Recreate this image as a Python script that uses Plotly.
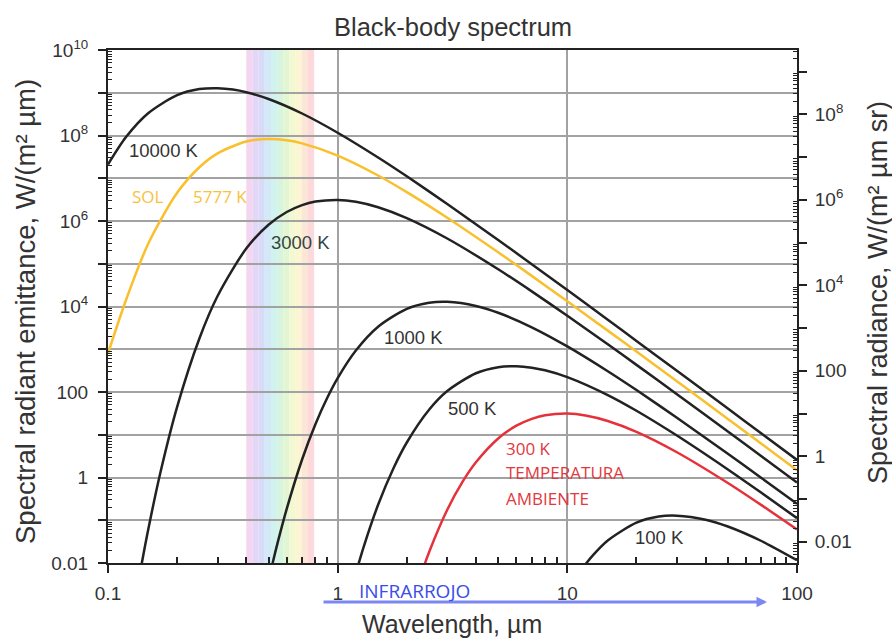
import numpy as np
import plotly.graph_objects as go

# ---------------- data ----------------
# wavelength (µm) and spectral radiant emittance W/(m² µm)
wl_10000 = [0.1, 0.12, 0.15, 0.2, 0.25, 0.3, 0.35, 0.4, 0.5, 0.7, 1, 1.5, 2, 3, 5, 7, 10, 15, 20, 30, 50, 70, 100]
em_10000 = [2.1e7, 9.3e7, 3.36e8, 8.78e8, 1.22e9, 1.28e9, 1.19e9, 1.03e9, 7.14e8, 3.27e8, 1.16e8, 3.06e7,
            1.11e7, 2.50e6, 3.59e5, 9.75e4, 2.42e4, 4895, 1567, 314, 41.0, 10.7, 2.58]

wl_5777 = [0.1, 0.12, 0.15, 0.2, 0.25, 0.3, 0.4, 0.5, 0.6, 0.7, 1, 1.5, 2, 3, 5, 7, 10, 15, 20, 30, 50, 70, 100]
em_5777 = [800, 1.46e4, 3.03e5, 4.57e6, 1.81e7, 3.82e7, 7.24e7, 8.28e7, 7.70e7, 6.53e7, 3.38e7, 1.16e7,
           4.73e6, 1.19e6, 1.85e5, 5.21e4, 1.32e4, 2728, 882, 178, 23.4, 6.15, 1.48]

wl_3000 = [0.13, 0.14, 0.15, 0.17, 0.2, 0.25, 0.3, 0.4, 0.5, 0.6, 0.7, 0.8, 1, 1.2, 1.5, 2, 3, 5, 7, 10,
           15, 20, 30, 50, 70, 100]
em_3000 = [9.6e-4, 0.0092, 0.0641, 1.475, 45, 1786, 1.756e4, 2.267e5, 8.17e5, 1.625e6, 2.358e6, 2.852e6,
           3.118e6, 2.815e6, 2.10e6, 1.169e6, 3.90e5, 7.43e4, 2.26e4, 6081, 1308, 431, 88.8, 11.9, 3.14, 0.762]

wl_1000 = [0.48, 0.52, 0.55, 0.6, 0.7, 0.8, 0.9, 1, 1.2, 1.5, 2, 2.5, 3, 4, 5, 7, 10, 15, 20, 30, 50, 70, 100]
em_1000 = [0.00141, 0.0095, 0.0324, 0.185, 2.64, 17.7, 72.3, 211, 933, 3362, 8783, 1.217e4, 1.283e4,
           1.030e4, 7138, 3269, 1164, 306, 111, 25.0, 3.59, 0.976, 0.242]

wl_500 = [1.15, 1.2, 1.3, 1.5, 1.75, 2, 2.5, 3, 4, 5, 6, 7, 8, 10, 15, 20, 30, 50, 70, 100]
em_500 = [0.00253, 0.00579, 0.0246, 0.230, 1.647, 6.59, 38.4, 105, 274.5, 380, 401, 371, 322, 223,
          84.8, 36.4, 9.57, 1.54, 0.438, 0.112]

wl_300 = [2.2, 2.3, 2.5, 3, 3.5, 4, 5, 6, 7, 8, 10, 12, 15, 20, 30, 50, 70, 100]
em_300 = [0.00247, 0.00511, 0.0179, 0.176, 0.798, 2.27, 8.17, 16.3, 23.6, 28.5, 31.2, 28.2, 21.0, 11.7,
          3.90, 0.744, 0.226, 0.0608]

wl_100 = [11, 12, 13, 15, 20, 25, 30, 40, 50, 70, 100]
em_100 = [0.00485, 0.00933, 0.0157, 0.0336, 0.0878, 0.122, 0.128, 0.103, 0.0714, 0.0327, 0.0116]

# visible band (µm) and its pale rainbow colours
visible_range = [0.40, 0.79]
visible_colors = ["#f4d6f1", "#e4d6f6", "#d7dbf8", "#d3e9f8", "#d2f2f2", "#d7f4de", "#e3f6d3",
                  "#f2f8d0", "#fbf5d2", "#fce6d8", "#fcdadb"]

x_tick_vals = [0.1, 1, 10, 100]
x_tick_text = ["0.1", "1", "10", "100"]
y_decades = [10.0 ** k for k in range(-2, 11)]
y_tick_text = ["0.01", "", "1", "", "100", "", "10<sup>4</sup>", "", "10<sup>6</sup>", "",
               "10<sup>8</sup>", "", "10<sup>10</sup>"]
y2_decades = [10.0 ** k for k in range(-2, 10)]
y2_tick_text = ["0.01", "", "1", "", "100", "", "10<sup>4</sup>", "", "10<sup>6</sup>", "",
                "10<sup>8</sup>", ""]

BLACK = "#222222"
YELLOW = "#f9bf2c"
RED = "#e5313a"

fig = go.Figure()

series = [
    (wl_10000, em_10000, BLACK),
    (wl_5777, em_5777, YELLOW),
    (wl_3000, em_3000, BLACK),
    (wl_1000, em_1000, BLACK),
    (wl_500, em_500, BLACK),
    (wl_300, em_300, RED),
    (wl_100, em_100, BLACK),
]
for wl, em, col in series:
    fig.add_trace(go.Scatter(x=wl, y=em, mode="lines",
                             line=dict(color=col, width=2.5, shape="spline", smoothing=0.8),
                             showlegend=False, hoverinfo="skip"))

# dummy trace so that the right axis is drawn
fig.add_trace(go.Scatter(x=[], y=[], yaxis="y2", showlegend=False, hoverinfo="skip"))

# visible band as thin stripes
edges = np.geomspace(visible_range[0], visible_range[1], len(visible_colors) + 1)
for i, c in enumerate(visible_colors):
    fig.add_shape(type="rect", xref="x", yref="paper", x0=edges[i], x1=edges[i + 1], y0=0, y1=1,
                  fillcolor=c, line=dict(width=0), layer="below")

grid_col = "#a2a2a2"
minor_x = [m * 10.0 ** k for k in range(-1, 2) for m in range(2, 10)]
minor_y = [m * 10.0 ** k for k in range(-2, 10) for m in range(2, 10)]

FONT = "Liberation Sans, Arial, sans-serif"

fig.update_layout(
    width=892, height=640,
    margin=dict(l=108, r=95, t=50, b=77),
    paper_bgcolor="white", plot_bgcolor="white",
    showlegend=False,
    font=dict(family=FONT, size=19, color="#333333"),
    xaxis=dict(type="log", range=[-1, 2], tickmode="array", tickvals=x_tick_vals, ticktext=x_tick_text,
               ticks="outside", ticklen=8, tickwidth=2, tickcolor=BLACK,
               showline=True, linewidth=2, linecolor=BLACK, mirror=True,
               showgrid=True, gridcolor=grid_col, gridwidth=1.5, zeroline=False,
               ticklabelstandoff=4,
               minor=dict(ticks="inside", ticklen=6, tickwidth=1.5, tickcolor=BLACK,
                          tickmode="array", tickvals=minor_x, showgrid=False)),
    yaxis=dict(type="log", range=[-2, 10], tickmode="array", tickvals=y_decades, ticktext=y_tick_text,
               ticks="outside", ticklen=8, tickwidth=2, tickcolor=BLACK,
               showline=True, linewidth=2, linecolor=BLACK,
               showgrid=True, gridcolor=grid_col, gridwidth=1.5, zeroline=False,
               ticklabelstandoff=6,
               minor=dict(ticks="inside", ticklen=4, tickwidth=1, tickcolor=BLACK,
                          tickmode="array", tickvals=minor_y, showgrid=False)),
    yaxis2=dict(type="log", overlaying="y", side="right",
                range=[np.log10(0.01 / np.pi), np.log10(1e10 / np.pi)],
                tickmode="array", tickvals=y2_decades, ticktext=y2_tick_text,
                ticks="outside", ticklen=8, tickwidth=2, tickcolor=BLACK,
                showline=True, linewidth=2, linecolor=BLACK,
                showgrid=False, zeroline=False, ticklabelstandoff=4,
                minor=dict(ticks="inside", ticklen=4, tickwidth=1, tickcolor=BLACK,
                           tickmode="array",
                           tickvals=[m * 10.0 ** k for k in range(-3, 10) for m in range(2, 10)],
                           showgrid=False)),
)

# helpers: pixel position -> log-axis annotation coordinates
PX0, PX1, PY0, PY1 = 108, 797, 50, 563
def ax_x(px):
    return -1 + 3 * (px - PX0) / (PX1 - PX0)
def ax_y(py):
    return 10 - 12 * (py - PY0) / (PY1 - PY0)
def paper_x(px):
    return (px - PX0) / (PX1 - PX0)
def paper_y(py):
    return (PY1 - py) / (PY1 - PY0)

dark = "#333333"
lab_font = dict(family=FONT, size=18.5, color=dark)
curve_labels = [
    ("10000 K", 164, 150, lab_font),
    ("3000 K", 300, 242, dict(lab_font, color="#344444")),
    ("1000 K", 413, 337, lab_font),
    ("500 K", 472, 408, lab_font),
    ("100 K", 659, 537, lab_font),
]
for txt, px, py, f in curve_labels:
    fig.add_annotation(x=ax_x(px), y=ax_y(py), xref="x", yref="y", text=txt, showarrow=False, font=f,
                       xanchor="center", yanchor="middle")

sol_font = dict(family="Open Sans, sans-serif", size=17, color="#f7c23e")
fig.add_annotation(x=ax_x(148), y=ax_y(196), xref="x", yref="y", text="SOL", showarrow=False, font=sol_font,
                   xanchor="center", yanchor="middle")
fig.add_annotation(x=ax_x(220), y=ax_y(196), xref="x", yref="y", text="5777 K", showarrow=False, font=sol_font,
                   xanchor="center", yanchor="middle")

red_font = dict(family="Open Sans, sans-serif", size=17, color="#e2383e")
for txt, py in [("300 K", 448), ("TEMPERATURA", 472), ("AMBIENTE", 498)]:
    fig.add_annotation(x=ax_x(504), y=ax_y(py), xref="x", yref="y", text=txt, showarrow=False,
                       xanchor="left", yanchor="middle", font=red_font)

# infrared arrow below the axis
fig.add_annotation(x=ax_x(767), y=paper_y(602), xref="x", yref="paper",
                   ax=ax_x(322), ay=0, axref="x", ayref="pixel",
                   text="", showarrow=True, arrowhead=2, arrowsize=0.7, arrowwidth=3,
                   arrowcolor="#7c88f1")
fig.add_annotation(x=ax_x(357), y=paper_y(591), xref="x", yref="paper", text="INFRARROJO",
                   showarrow=False, xanchor="left", yanchor="middle",
                   font=dict(family="Open Sans, sans-serif", size=19, color="#3a4de6"))

# titles
title_font = dict(family=FONT, size=25.5, color="#333333")
fig.add_annotation(x=paper_x(453), y=paper_y(27), xref="paper", yref="paper", text="Black-body spectrum",
                   showarrow=False, font=title_font, xanchor="center", yanchor="middle")
fig.add_annotation(x=paper_x(452), y=paper_y(624), xref="paper", yref="paper", text="Wavelength, µm",
                   showarrow=False, font=dict(title_font, size=25), xanchor="center", yanchor="middle")
fig.add_annotation(x=paper_x(25), y=paper_y(312), xref="paper", yref="paper",
                   text="Spectral radiant emittance, W/(m² µm)", textangle=-90,
                   showarrow=False, font=dict(title_font, size=27.5), xanchor="center", yanchor="middle")
fig.add_annotation(x=paper_x(878), y=paper_y(293), xref="paper", yref="paper",
                   text="Spectral radiance, W/(m² µm sr)", textangle=-90,
                   showarrow=False, font=dict(title_font, size=27), xanchor="center", yanchor="middle")

fig.write_html("out.html")
